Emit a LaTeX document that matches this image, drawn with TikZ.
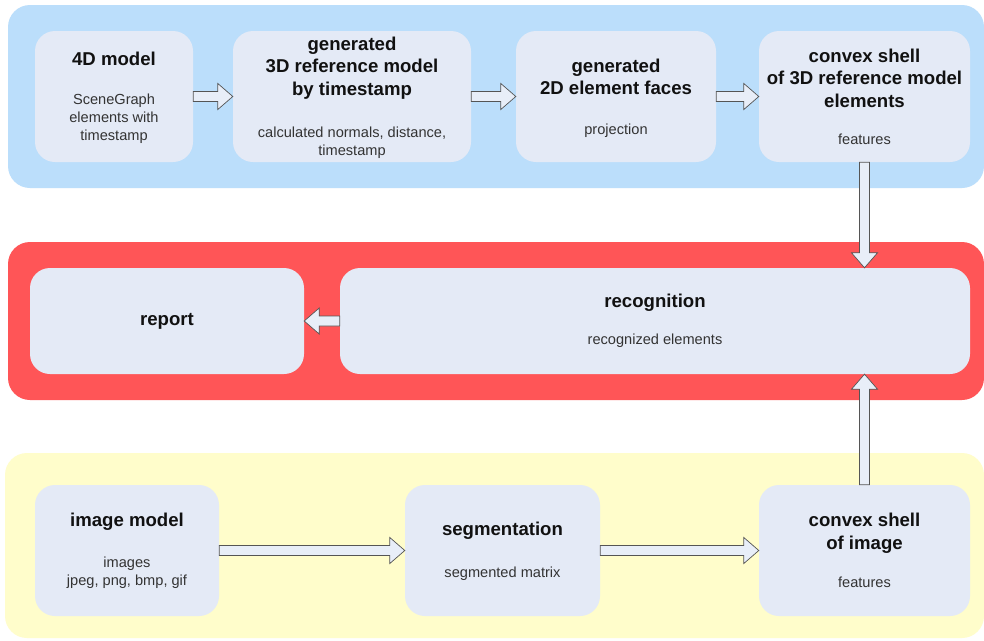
\documentclass[tikz,border=0pt]{standalone}
\usepackage{fontspec}
\setmainfont{Liberation Sans}
\usetikzlibrary{calc}
\definecolor{panelblue}{HTML}{BBDEFB}
\definecolor{panelred}{HTML}{FF5557}
\definecolor{panelyellow}{HTML}{FFFDCB}
\definecolor{boxfill}{HTML}{E4EAF6}
\definecolor{arrowfill}{HTML}{E8EEF8}
\definecolor{arrowline}{HTML}{555555}
\definecolor{titlecol}{HTML}{111111}
\definecolor{subcol}{HTML}{333333}
\tikzset{
  panel/.style={rounded corners=22pt, draw=none},
  procbox/.style={rectangle, rounded corners=20pt, fill=boxfill, draw=none, inner sep=0pt},
  titletext/.style={font=\fontsize{18.6}{22.5}\selectfont\bfseries, text=titlecol, align=center, inner sep=0pt},
  subtext/.style={font=\fontsize{14.6}{18}\selectfont, text=subcol, align=center, inner sep=0pt},
  blockarr/.style={fill=arrowfill, draw=arrowline, line width=0.7pt, line join=miter}
}
% block arrow from #1 to #2
\newcommand\blockarrow[2]{%
  \path (#1) coordinate (ba-s) (#2) coordinate (ba-e);
  \path ($(ba-e)!15pt!(ba-s)$) coordinate (ba-h);
  \draw[blockarr] ($(ba-s)!5pt!90:(ba-e)$) -- ($(ba-h)!5pt!-90:(ba-s)$)
    -- ($(ba-h)!13pt!-90:(ba-s)$) -- (ba-e) -- ($(ba-h)!13pt!90:(ba-s)$)
    -- ($(ba-h)!5pt!90:(ba-s)$) -- ($(ba-s)!5pt!-90:(ba-e)$) -- cycle;
}
\begin{document}
\begin{tikzpicture}[x=1pt,y=-1pt]
\useasboundingbox (0,0) rectangle (984,640);
\fill[white] (0,0) rectangle (984,640);
% panels
\fill[panel, fill=panelblue] (8,5) rectangle (984,188);
\fill[panel, fill=panelred] (8,242) rectangle (984,400);
\fill[panel, fill=panelyellow] (5,453) rectangle (984,638);

% top row boxes
\node[procbox, minimum width=158pt, minimum height=131pt] (m4d) at (114,96.5) {};
\node[procbox, minimum width=238pt, minimum height=131pt] (g3d) at (352,96.5) {};
\node[procbox, minimum width=200pt, minimum height=131pt] (g2d) at (616,96.5) {};
\node[procbox, minimum width=211pt, minimum height=131pt] (c3d) at (864.5,96.5) {};
% middle row
\node[procbox, minimum width=274pt, minimum height=106pt] (rep) at (167,321) {};
\node[procbox, minimum width=630pt, minimum height=106pt] (rec) at (655,321) {};
% bottom row
\node[procbox, minimum width=184pt, minimum height=131pt] (img) at (127,550.5) {};
\node[procbox, minimum width=195pt, minimum height=131pt] (seg) at (502.5,550.5) {};
\node[procbox, minimum width=211pt, minimum height=131pt] (cim) at (864.5,550.5) {};

% texts
\node[titletext] (m4d-t) at (114,59) {4D model};
\node[subtext] (m4d-s) at (114,119) {SceneGraph\\elements with\\timestamp};
\node[titletext] (g3d-t) at (352,68) {generated\\3D reference model\\by timestamp};
\node[subtext] (g3d-s) at (352,143) {calculated normals, distance,\\timestamp};
\node[titletext] (g2d-t) at (616,77) {generated\\2D element faces};
\node[subtext] (g2d-s) at (616,131) {projection};
\node[titletext] (c3d-t) at (864.5,78) {convex shell\\of 3D reference model\\elements};
\node[subtext] (c3d-s) at (864.5,139) {features};
\node[titletext] (rep-t) at (167,321) {report};
\node[titletext] (rec-t) at (655,303) {recognition};
\node[subtext] (rec-s) at (655,341) {recognized elements};
\node[titletext] (img-t) at (127,522) {image model};
\node[subtext] (img-s) at (127,573) {images\\jpeg, png, bmp, gif};
\node[titletext] (seg-t) at (502.5,531) {segmentation};
\node[subtext] (seg-s) at (502.5,574) {segmented matrix};
\node[titletext] (cim-t) at (864.5,533) {convex shell\\of image};
\node[subtext] (cim-s) at (864.5,582) {features};

% arrows
\blockarrow{m4d.east}{g3d.west}
\blockarrow{g3d.east}{g2d.west}
\blockarrow{g2d.east}{c3d.west}
\blockarrow{c3d.south}{c3d.south |- rec.north}
\blockarrow{rec.west}{rep.east}
\blockarrow{cim.north}{cim.north |- rec.south}
\blockarrow{img.east}{seg.west}
\blockarrow{seg.east}{cim.west}
\end{tikzpicture}
\end{document}
